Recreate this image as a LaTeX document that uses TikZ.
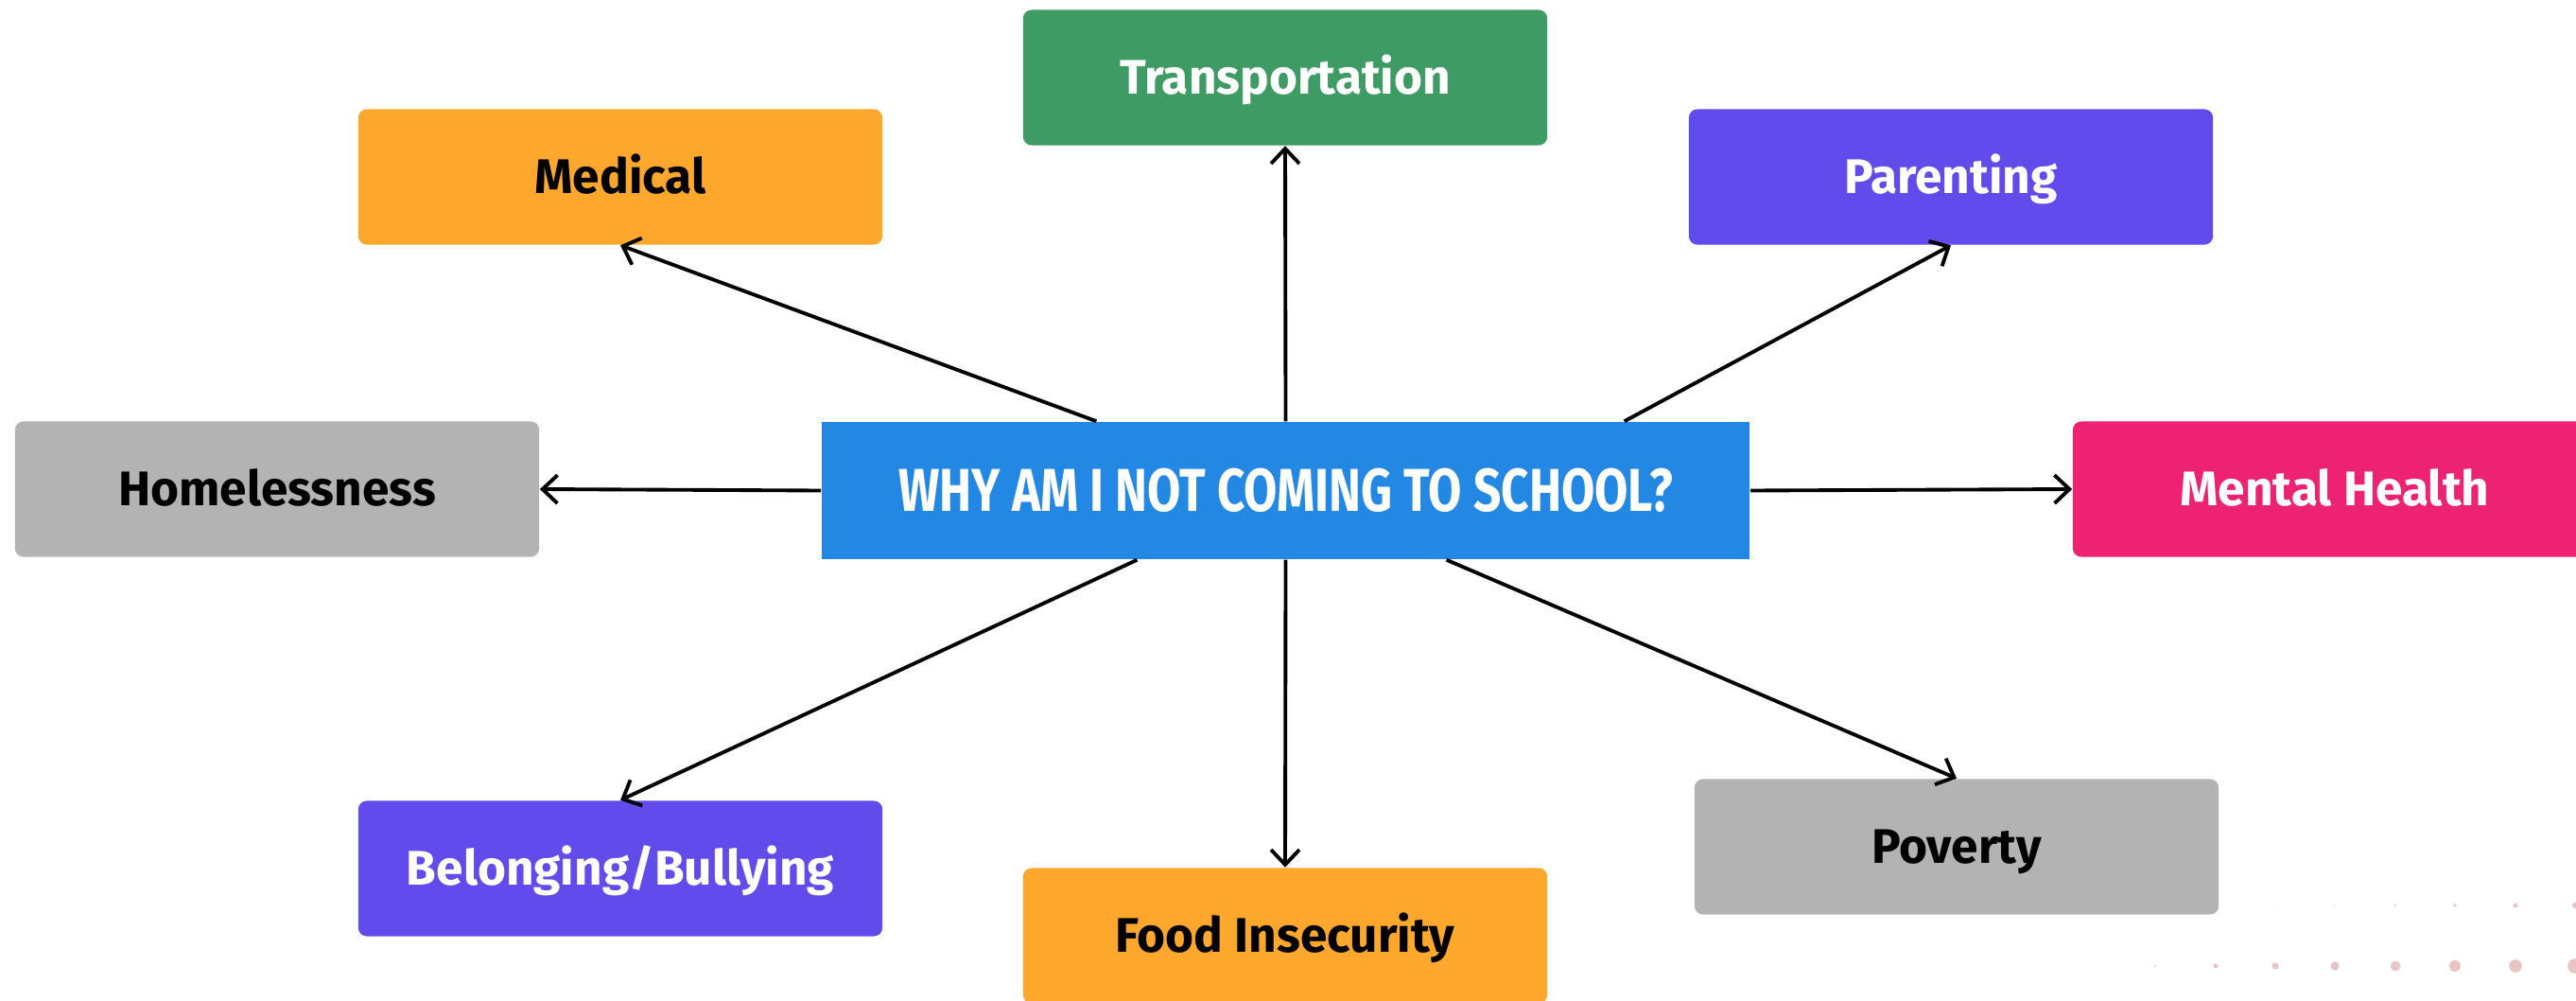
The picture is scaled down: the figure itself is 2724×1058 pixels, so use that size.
\documentclass[tikz,border=0pt]{standalone}
\usepackage{fontspec}
\setmainfont{Fira Sans}
\newfontfamily\titlefont[FakeStretch=0.8]{Fira Sans}
\usetikzlibrary{arrows.meta}

\definecolor{boxorange}{RGB}{253,168,44}
\definecolor{boxgreen}{RGB}{61,155,99}
\definecolor{boxpurple}{RGB}{97,75,234}
\definecolor{boxpink}{RGB}{238,34,114}
\definecolor{boxgrey}{RGB}{179,179,179}
\definecolor{boxblue}{RGB}{35,135,228}
\definecolor{dotpink}{RGB}{232,196,196}

\begin{document}
\begin{tikzpicture}[x=0.01cm,y=-0.01cm,
  box/.style={rounded corners=0.09cm, minimum width=5.54cm, minimum height=1.43cm,
    inner sep=0pt, text height=10pt, text depth=0pt,
    font=\fontsize{14.6}{18}\selectfont\bfseries},
  ondark/.style={box, fill=#1, text=white},
  onlight/.style={box, fill=#1, text=black},
  hub/.style={fill=boxblue, text=white, minimum width=9.81cm, minimum height=1.45cm,
    inner sep=0pt, text height=12.5pt, text depth=0pt,
    font=\titlefont\fontsize{18.2}{20}\selectfont\bfseries},
  link/.style={line width=1.1pt, -{Straight Barb[length=4.5pt,width=8.5pt]}}]

\clip (0,0) rectangle (2724,1058);
\fill[white] (0,0) rectangle (2724,1058);

% central question
\node[hub] (c) at (1359.5,518.5) {WHY AM I NOT COMING TO SCHOOL?};

% surrounding factors
\node[ondark=boxgreen]  (trans)  at (1359,82)  {Transportation};
\node[onlight=boxorange] (med)   at (656,187)  {Medical};
\node[ondark=boxpurple] (parent) at (2063,187) {Parenting};
\node[onlight=boxgrey]  (home)   at (293,517)  {Homelessness};
\node[ondark=boxpink]   (mental) at (2469,517) {Mental Health};
\node[ondark=boxpurple] (belong) at (656,918)  {Belonging/Bullying};
\node[onlight=boxorange] (food)  at (1359,989) {Food Insecurity};
\node[onlight=boxgrey]  (pov)    at (2069,895) {Poverty};

% connectors
\draw[link] (c.north) -- (trans.south);
\draw[link] ([xshift=-2cm]c.north) -- (med.south);
\draw[link] ([xshift=3.58cm]c.north) -- (parent.south);
\draw[link] (c.west) -- (home.east);
\draw[link] (c.east) -- (mental.west);
\draw[link] ([xshift=-1.57cm]c.south) -- (belong.north);
\draw[link] (c.south) -- (food.north);
\draw[link] ([xshift=1.7cm]c.south) -- (pov.north);

% decorative dots, bottom right
\foreach \x/\r in {2406/0.5,2469/0.7,2533/1.2,2596/1.8,2660/2.4,2723/3}
  \fill[dotpink] (\x,957) circle[radius=\r*0.01cm];
\foreach \x/\r in {2216/0.5,2279/1.2,2343/2.4,2406/3.5,2469/4.6,2533/5.3,2596/6,2660/6.8,2723/7.8}
  \fill[dotpink] (\x,1021) circle[radius=\r*0.01cm];
\end{tikzpicture}
\end{document}
